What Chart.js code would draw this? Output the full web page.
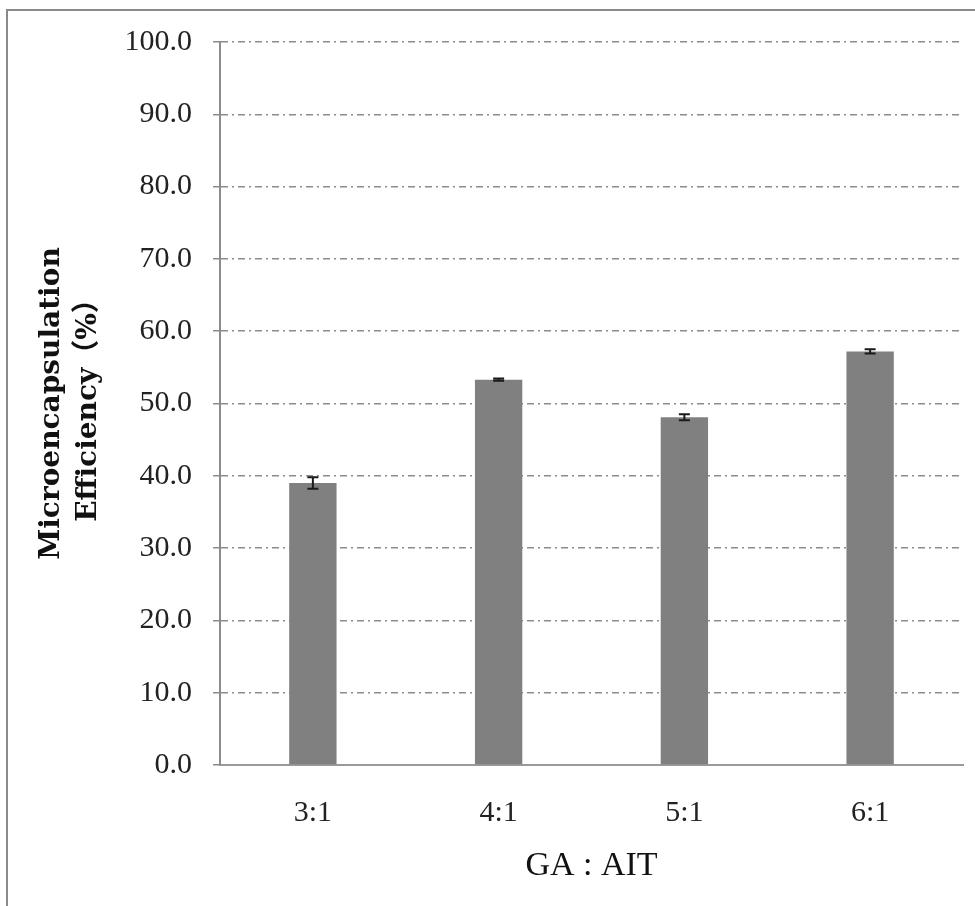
<!DOCTYPE html>
<html lang="en">

<head>
    <meta charset="UTF-8">
    <title>Microencapsulation Efficiency</title>
    <script src="https://cdn.jsdelivr.net/npm/chart.js"></script>
    <style>
        html, body { margin: 0; padding: 0; background: #fff; }
        #grafico { display: block; }
    </style>
</head>

<body>
    <canvas id="grafico" width="975" height="906"></canvas>

    <script>
        // GA : AIT ratios and measured efficiency (mean +/- sd)
        var razoes = ["3:1", "4:1", "5:1", "6:1"];
        var eficiencia = [39.0, 53.3, 48.1, 57.2];
        var desvio = [0.8, 0.15, 0.4, 0.3];
        var ticksY = [0, 10, 20, 30, 40, 50, 60, 70, 80, 90, 100];

        var serif = "'Liberation Serif', 'Times New Roman', serif";

        // outer frame (only left/top edges fall inside the canvas)
        var moldura = {
            id: "moldura",
            beforeDraw: function (chart) {
                var ctx = chart.ctx;
                ctx.save();
                ctx.strokeStyle = "#8a8a8a";
                ctx.lineWidth = 2;
                ctx.beginPath();
                ctx.moveTo(7, chart.height);
                ctx.lineTo(7, 10);
                ctx.lineTo(chart.width, 10);
                ctx.stroke();
                ctx.restore();
            }
        };

        // error bars drawn from the same scales as the bars
        var barrasErro = {
            id: "barrasErro",
            afterDatasetsDraw: function (chart) {
                var ctx = chart.ctx;
                var y = chart.scales.y;
                var meta = chart.getDatasetMeta(0);
                ctx.save();
                ctx.strokeStyle = "#1a1a1a";
                ctx.lineWidth = 2;
                meta.data.forEach(function (bar, i) {
                    var topo = y.getPixelForValue(eficiencia[i] + desvio[i]);
                    var base = y.getPixelForValue(eficiencia[i] - desvio[i]);
                    var cap = 5.5;
                    ctx.beginPath();
                    ctx.moveTo(bar.x, topo);
                    ctx.lineTo(bar.x, base);
                    ctx.moveTo(bar.x - cap, topo);
                    ctx.lineTo(bar.x + cap, topo);
                    ctx.moveTo(bar.x - cap, base);
                    ctx.lineTo(bar.x + cap, base);
                    ctx.stroke();
                });
                ctx.restore();
            }
        };

        new Chart(document.getElementById("grafico"), {
            type: "bar",
            data: {
                labels: razoes,
                datasets: [{
                    data: eficiencia,
                    backgroundColor: "#808080",
                    borderWidth: 0,
                    barPercentage: 0.255,
                    categoryPercentage: 1.0
                }]
            },
            options: {
                responsive: false,
                animation: false,
                layout: { padding: { top: 42, right: 12, bottom: 0, left: 0 } },
                plugins: {
                    legend: { display: false },
                    tooltip: { enabled: false }
                },
                scales: {
                    x: {
                        grid: { display: false },
                        border: { display: true, color: "#9a9a9a", width: 2 },
                        ticks: {
                            color: "#222",
                            padding: 22,
                            font: { family: serif, size: 30 }
                        },
                        title: {
                            display: true,
                            text: "GA : AIT",
                            color: "#111",
                            font: { family: serif, size: 34 },
                            padding: { top: 0, bottom: 20 }
                        },
                        afterFit: function (scale) { scale.height = 141; }
                    },
                    y: {
                        min: 0,
                        max: 100,
                        afterBuildTicks: function (scale) {
                            scale.ticks = ticksY.map(function (v) { return { value: v }; });
                        },
                        grid: {
                            color: "#8c8c8c",
                            lineWidth: 1.5,
                            tickLength: 7,
                            drawTicks: true
                        },
                        border: { display: true, color: "#8c8c8c", width: 2, dash: [7, 4, 2, 4] },
                        ticks: {
                            color: "#222",
                            padding: 21,
                            font: { family: serif, size: 30 },
                            callback: function (v) { return v.toFixed(1); }
                        },
                        title: {
                            display: true,
                            text: ["Microencapsulation", "Efficiency（%）"],
                            color: "#111",
                            font: { family: "'DejaVu Serif', 'Noto Sans CJK KR', serif", size: 28, weight: "bold", lineHeight: 1.3 },
                            padding: { top: 34, bottom: 0 }
                        },
                        afterFit: function (scale) { scale.width = 220; }
                    }
                }
            },
            plugins: [moldura, barrasErro]
        });
    </script>
</body>

</html>
